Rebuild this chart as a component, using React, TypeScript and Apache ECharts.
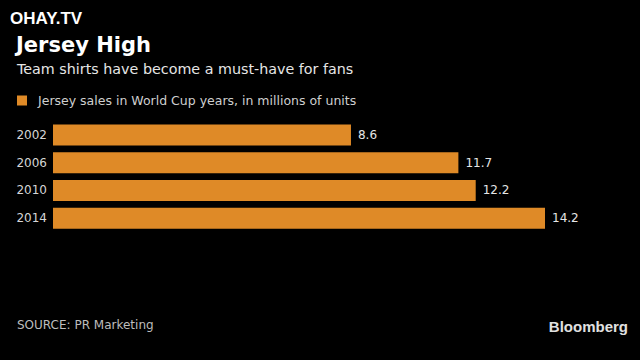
import React, { useEffect, useRef } from "react";
import * as echarts from "echarts";

const years = ["2002", "2006", "2010", "2014"];
const sales = [8.6, 11.7, 12.2, 14.2];
const seriesName = "Jersey sales in World Cup years, in millions of units";
const titleText = "Jersey High";
const subtitleText = "Team shirts have become a must-have for fans";
const sourceText = "SOURCE: PR Marketing";

const ORANGE = "#DF8A27";
const FONT = "'DejaVu Sans', Verdana, sans-serif";

export default function App() {
  const ref = useRef<HTMLDivElement>(null);
  useEffect(() => {
    document.body.style.margin = "0";
    document.body.style.background = "#000";
    const chart = echarts.init(ref.current!, null, { renderer: "svg" });
    chart.setOption({
      animation: false,
      backgroundColor: "#000",
      textStyle: { fontFamily: FONT },
      legend: {
        left: 12,
        top: 89,
        itemWidth: 10,
        itemHeight: 10,
        icon: "rect",
        itemGap: 0,
        selectedMode: false,
        textStyle: { color: "#cfcfcf", fontSize: 12.5, fontFamily: FONT, padding: [0, 0, 0, 6] },
        data: [seriesName],
      },
      grid: { left: 53, right: 95, top: 121, height: 111, containLabel: false },
      xAxis: {
        type: "value",
        min: 0,
        max: 14.2,
        show: false,
      },
      yAxis: {
        type: "category",
        data: years,
        inverse: true,
        axisLine: { show: false },
        axisTick: { show: false },
        axisLabel: { color: "#d6d6d6", fontSize: 12, margin: 6, fontFamily: FONT },
      },
      series: [
        {
          name: seriesName,
          type: "bar",
          data: sales,
          barWidth: 21,
          itemStyle: { color: ORANGE },
          label: {
            show: true,
            position: "right",
            distance: 7,
            color: "#e6e6e6",
            fontSize: 12,
            fontFamily: FONT,
          },
        },
      ],
      graphic: [
        {
          type: "text",
          left: 10,
          top: 10,
          style: {
            text: "OHAY.TV",
            fill: "#ffffff",
            font: "bold 17px 'Liberation Sans', Arial, sans-serif",
          },
        },
        {
          type: "text",
          left: 16,
          top: 34,
          style: { text: titleText, fill: "#ffffff", font: `bold 21px ${FONT}` },
        },
        {
          type: "text",
          left: 17,
          top: 62,
          style: { text: subtitleText, fill: "#e6e6e6", font: `14.3px ${FONT}` },
        },
        {
          type: "text",
          left: 17,
          top: 319,
          style: { text: sourceText, fill: "#bdbdbd", font: `12px ${FONT}` },
        },
        {
          type: "text",
          right: 12,
          top: 319,
          style: { text: "Bloomberg", fill: "#e0e0e0", font: `bold 15px 'Liberation Sans', Arial, sans-serif` },
        },
      ],
    });
    return () => chart.dispose();
  }, []);
  return <div ref={ref} style={{ width: 640, height: 360 }} />;
}
